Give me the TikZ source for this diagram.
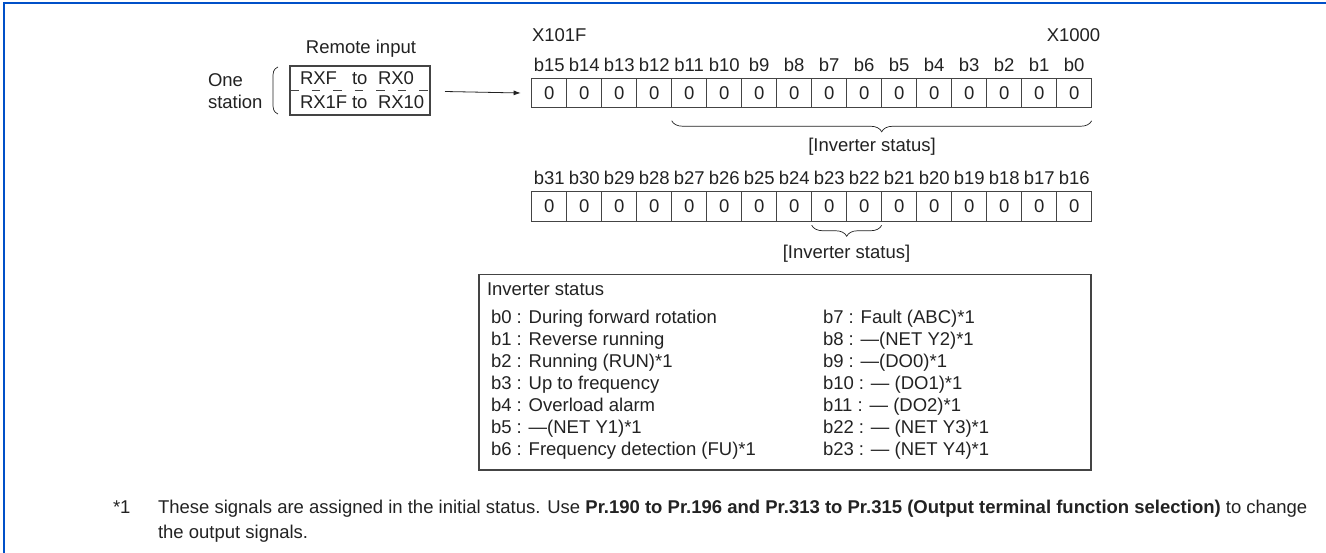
\documentclass[tikz,border=0pt]{standalone}
\usepackage{fontspec}
\setmainfont{Liberation Sans}
\usetikzlibrary{arrows.meta,decorations.pathreplacing}
\definecolor{frameblue}{HTML}{0050C8}
\definecolor{ink}{HTML}{222222}
\definecolor{boxline}{HTML}{444444}
\tikzset{
  txt/.style={inner sep=0pt,outer sep=0pt,text=ink,text height=17.2pt,text depth=4pt,font=\fontsize{18.5}{22}\selectfont},
  cell/.style={draw=boxline,line width=1.1pt,minimum width=35pt,minimum height=29.5pt,inner sep=0pt,outer sep=0pt,text=ink,font=\fontsize{18.5}{22}\selectfont},
  bracestyle/.style={draw=ink,line width=0.7pt,decorate,decoration={brace,amplitude=11pt}},
  arrowline/.style={draw=ink,line width=0.8pt,-{Latex[length=7pt,width=5pt]}}
}
\begin{document}
\begin{tikzpicture}[x=1pt,y=-1pt]
\useasboundingbox (0,0) rectangle (1326,553);
% frame
\draw[frameblue,line width=2pt] (3.5,553) -- (3.5,3.5) -- (1326,3.5);

% remote input
\node[txt] (remote) at (361,47) {Remote input};
\node[draw=boxline,line width=1.1pt,minimum width=140pt,minimum height=49pt,inner sep=0pt,outer sep=0pt] (rbox) at (360,90.5) {};
\draw[boxline,line width=1.1pt,dash pattern=on 8.5pt off 13pt] (rbox.west) -- (rbox.east);
\node[txt,anchor=west] (ra1) at (300,78) {RXF};
\node[txt,anchor=west] (ra2) at (352,78) {to};
\node[txt,anchor=west] (ra3) at (378,78) {RX0};
\node[txt,anchor=west] (rb1) at (300,102) {RX1F};
\node[txt,anchor=west] (rb2) at (352,102) {to};
\node[txt,anchor=west] (rb3) at (378,102) {RX10};
\node[txt,anchor=west] (one) at (208,80) {One};
\node[txt,anchor=west] (station) at (208,102) {station};
\coordinate (pt) at (278,67);
\coordinate (pb) at (278,114);
\draw[ink,line width=0.7pt] (pt) .. controls (273,69) and (273,73) .. (273,78) -- (273,103) .. controls (273,108) and (273,112) .. (pb);
\coordinate (arrs) at (445,91.5);

% register 1
\node[txt,anchor=west] (x101f) at (532,35) {X101F};
\node[txt] (x1000) at (1073.5,35) {X1000};
\foreach \i in {0,...,15}{
  \pgfmathtruncatemacro{\b}{15-\i}
  \node[cell] (r1c\i) at ({549.2+35*\i},93) {0};
  \node[txt] (r1l\i) at ({549.2+35*\i},65) {b\b};
}
\draw[arrowline] (arrs) -- ([xshift=-11pt]r1c0.west);
\draw[bracestyle] ([yshift=-13pt]r1c15.south east) -- ([yshift=-13pt]r1c4.south west);
\node[txt] (st1) at (872,145) {[Inverter status]};

% register 2
\foreach \i in {0,...,15}{
  \pgfmathtruncatemacro{\b}{31-\i}
  \node[cell] (r2c\i) at ({549.2+35*\i},206.5) {0};
  \node[txt] (r2l\i) at ({549.2+35*\i},178) {b\b};
}
\draw[bracestyle] ([yshift=-4pt]r2c9.south east) -- ([yshift=-4pt]r2c8.south west);
\node[txt] (st2) at (846.5,251.5) {[Inverter status]};

% status box
\node[draw=boxline,line width=1.5pt,minimum width=612pt,minimum height=195.5pt,inner sep=0pt,outer sep=0pt,anchor=north west] (sbox) at (479,274.5) {};
\node[txt,anchor=west] (hdr) at (487,289) {Inverter status};
\node[txt,anchor=west] (l0) at (491,317) {b0 : During forward rotation};
\node[txt,anchor=west] (l1) at (491,339) {b1 : Reverse running};
\node[txt,anchor=west] (l2) at (491,361) {b2 : Running (RUN)*1};
\node[txt,anchor=west] (l3) at (491,383) {b3 : Up to frequency};
\node[txt,anchor=west] (l4) at (491,405) {b4 : Overload alarm};
\node[txt,anchor=west] (l5) at (491,427) {b5 : —(NET Y1)*1};
\node[txt,anchor=west] (l6) at (491,449) {b6 : Frequency detection (FU)*1};
\node[txt,anchor=west] (m0) at (823,317) {b7 : Fault (ABC)*1};
\node[txt,anchor=west] (m1) at (823,339) {b8 : —(NET Y2)*1};
\node[txt,anchor=west] (m2) at (823,361) {b9 : —(DO0)*1};
\node[txt,anchor=west] (m3) at (823,383) {b10 : — (DO1)*1};
\node[txt,anchor=west] (m4) at (823,405) {b11 : — (DO2)*1};
\node[txt,anchor=west] (m5) at (823,427) {b22 : — (NET Y3)*1};
\node[txt,anchor=west] (m6) at (823,449) {b23 : — (NET Y4)*1};

% footnote
\node[txt,anchor=west] (fn) at (113,507) {*1};
\node[txt,anchor=west] (fn1) at (158,507) {These signals are assigned in the initial status. Use \textbf{Pr.190 to Pr.196 and Pr.313 to Pr.315 (Output terminal function selection)} to change};
\node[txt,anchor=west] (fn2) at (158,532) {the output signals.};
\end{tikzpicture}
\end{document}
